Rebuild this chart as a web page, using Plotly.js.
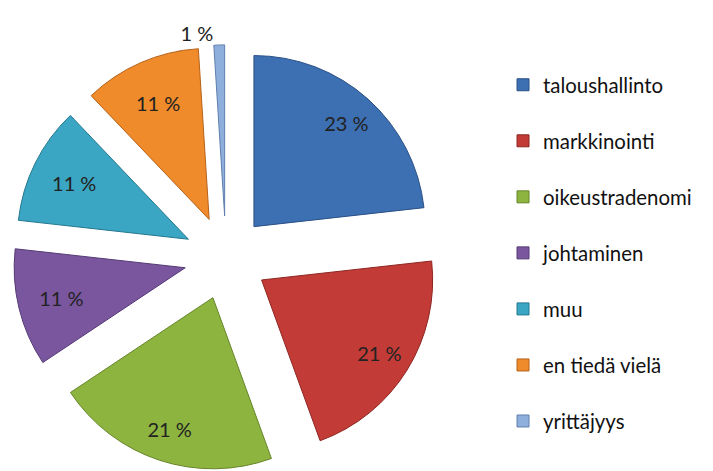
<!DOCTYPE html>
<html>
<head>
<meta charset="utf-8">
<script src="https://cdn.plot.ly/plotly-3.0.1.min.js"></script>
<style>html,body{margin:0;padding:0;background:#fff;}#chart{width:713px;height:471px;}</style>
</head>
<body>
<div id="chart"></div>
<script>
const labels = ["taloushallinto", "markkinointi", "oikeustradenomi", "johtaminen", "muu", "en tiedä vielä", "yrittäjyys"];
const values = [23, 21, 21, 11, 11, 11, 1];
const sliceColors = ["#3d6fb3", "#c23b36", "#8db43f", "#7a569f", "#3aa6c3", "#f08b2b", "#8eaedb"];
const edgeColors = ["#2a5085", "#8e2622", "#66852a", "#553b74", "#23788f", "#b5621a", "#5f7fae"];

const pieDomain = { x: [0.0182, 0.6157], y: [0.0, 0.905] };
const pullAmount = 0.245;
const labelFont = { family: "Lato, 'Open Sans', sans-serif", size: 20, color: "#222222" };
const legendLabels = labels.map(l => l + "<br> ");
const lastIdx = values.length - 1;

// visible slices; only the tiny slice carries its own (outside) label
const slices = {
  type: "pie",
  labels: legendLabels,
  values: values,
  sort: false,
  direction: "clockwise",
  rotation: 0,
  pull: pullAmount,
  marker: { colors: sliceColors, line: { color: edgeColors, width: 1 } },
  texttemplate: values.map((v, i) => i === lastIdx ? "%{value} %" : ""),
  textposition: values.map((v, i) => i === lastIdx ? "outside" : "inside"),
  insidetextorientation: "horizontal",
  textfont: labelFont,
  domain: pieDomain,
  hoverinfo: "label+value"
};

// transparent rings used only to place the inside labels further out, as in the original
function labelRing(hole, show) {
  return {
    type: "pie",
    labels: legendLabels,
    values: values,
    sort: false,
    direction: "clockwise",
    rotation: 0,
    pull: pullAmount,
    hole: hole,
    showlegend: false,
    marker: { colors: values.map(() => "rgba(0,0,0,0)"), line: { width: 0 } },
    texttemplate: values.map((v, i) => show(v, i) ? "%{value} %" : ""),
    textposition: "inside",
    insidetextorientation: "horizontal",
    textfont: labelFont,
    domain: pieDomain,
    hoverinfo: "skip"
  };
}
const bigRing = labelRing(0.62, (v, i) => i !== lastIdx && v >= 20);
const smallRing = labelRing(0.3, (v, i) => i !== lastIdx && v < 20);

const layout = {
  width: 713, height: 471,
  margin: { l: 0, r: 0, t: 0, b: 0 },
  paper_bgcolor: "#ffffff",
  showlegend: true,
  legend: {
    x: 0.7055, y: 0.862, xanchor: "left", yanchor: "top",
    valign: "top",
    font: { family: "Lato, 'Open Sans', sans-serif", size: 20.4, color: "#111111" },
    itemwidth: 30
  }
};

Plotly.newPlot("chart", [slices, bigRing, smallRing], layout, { displayModeBar: false, staticPlot: true });
</script>
</body>
</html>
